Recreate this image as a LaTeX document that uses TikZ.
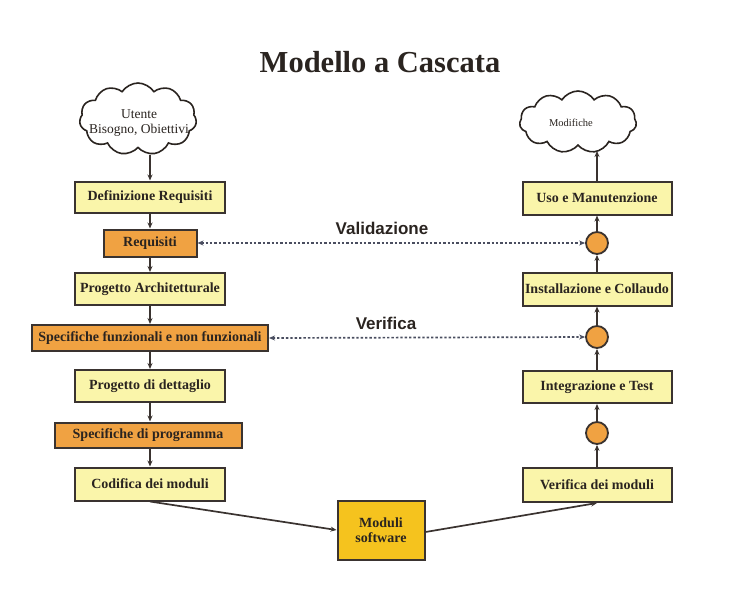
\documentclass[tikz,border=0pt]{standalone}
\usepackage{fontspec}
\setmainfont{Liberation Serif}
\setsansfont{Liberation Sans}
\usetikzlibrary{shapes.symbols,arrows.meta}
\definecolor{lyel}{HTML}{FAF5AA}
\definecolor{orng}{HTML}{F0A242}
\definecolor{gold}{HTML}{F5C31E}
\definecolor{edgec}{HTML}{3A3330}
\definecolor{txtc}{HTML}{2A2420}
\definecolor{dotc}{HTML}{4A4E60}
\begin{document}
\begin{tikzpicture}[x=1pt,y=-1pt,
  box/.style={draw=edgec, line width=2pt, fill=lyel, text=txtc,
    font=\bfseries\fontsize{14}{15.5}\selectfont, minimum width=150pt,
    minimum height=32pt, inner sep=1pt},
  obox/.style={box, fill=orng, minimum height=26pt},
  circ/.style={circle, draw=edgec, line width=1.8pt, fill=orng, minimum size=22pt, inner sep=0pt},
  cloudn/.style={cloud, cloud puffs=11, cloud puff arc=115, cloud ignores aspect,
    draw=txtc, line width=1.6pt, fill=white, text=txtc, align=center, inner sep=0pt},
  arr/.style={draw=edgec, line width=1.7pt, -{Stealth[length=6pt,width=5pt]}},
  dots/.style={draw=dotc, line width=1.7pt, dash pattern=on 2.4pt off 2pt,
    {Stealth[length=6pt,width=5pt]}-{Stealth[length=6pt,width=5pt]}},
  lbl/.style={font=\sffamily\bfseries\fontsize{17}{19}\selectfont, text=txtc}
]
\useasboundingbox (0,0) rectangle (737,595);

\node[font=\bfseries\fontsize{30.5}{34}\selectfont, text=txtc] (title) at (380,62) {Modello a Cascata};

% left column
\node[cloudn, minimum width=117pt, minimum height=72pt] (ute) at (138,119) {};
\node[font=\fontsize{13.5}{15.5}\selectfont, text=txtc, align=center] (utetxt) at (139,123) {Utente\\Bisogno, Obiettivi};
\coordinate (uend) at (150,155);
\node[box, minimum height=31pt] (def) at (150,197) {Definizione Requisiti};
\node[obox, minimum width=93pt, minimum height=27pt] (req) at (150,243) {Requisiti};
\node[box] (parch) at (150,289) {Progetto Architetturale};
\node[obox, minimum width=236pt] (sfunz) at (150,338) {Specifiche funzionali e non funzionali};
\node[box] (pdett) at (150,386) {Progetto di dettaglio};
\node[obox, minimum width=187pt, minimum height=25pt] (sprog) at (148,435) {Specifiche di programma};
\node[box, minimum height=33pt] (cod) at (150,484) {Codifica dei moduli};

% center
\node[box, fill=gold, minimum width=87pt, minimum height=59pt, align=center] (mod) at (381,530) {Moduli\\software};

% right column
\node[cloudn, minimum width=117pt, minimum height=62pt] (modif) at (578,122) {};
\node[font=\fontsize{10.5}{12}\selectfont, text=txtc] (modtxt) at (571,123) {Modifiche};
\coordinate (mend) at (597,151);
\node[box, minimum width=149pt, minimum height=33pt] (uso) at (597,198) {Uso e Manutenzione};
\node[circ] (c1) at (597,243) {};
\node[box, minimum width=149pt, minimum height=33pt] (inst) at (597,289) {Installazione e Collaudo};
\node[circ] (c2) at (597,337) {};
\node[box, minimum width=149pt] (integ) at (597,387) {Integrazione e Test};
\node[circ] (c3) at (597,433) {};
\node[box, minimum width=149pt, minimum height=34pt] (ver) at (597,485) {Verifica dei moduli};

% left arrows
\draw[arr] (uend) -- (def.north);
\draw[arr] (def.south) -- (req.north);
\draw[arr] (req.south) -- (parch.north);
\draw[arr] (parch.south) -- (sfunz.north);
\draw[arr] (sfunz.south) -- (pdett.north);
\draw[arr] (pdett.south) -- (pdett.south |- sprog.north);
\draw[arr] (pdett.south |- sprog.south) -- (cod.north);

% bottom
\draw[arr] (cod.south) -- (mod.west);
\draw[arr] ([yshift=-2pt]mod.east) -- (ver.south);

% right arrows
\draw[arr] (ver.north) -- (c3.south);
\draw[arr] (c3.north) -- (integ.south);
\draw[arr] (integ.north) -- (c2.south);
\draw[arr] (c2.north) -- (inst.south);
\draw[arr] (inst.north) -- (c1.south);
\draw[arr] (c1.north) -- (uso.south);
\draw[arr] (uso.north) -- (mend);

% validation / verification
\draw[dots] (req.east) -- (c1.west);
\node[lbl] (lval) at (382,228) {Validazione};
\draw[dots] (sfunz.east) -- (c2.west);
\node[lbl] (lver) at (386,323) {Verifica};
\end{tikzpicture}
\end{document}
